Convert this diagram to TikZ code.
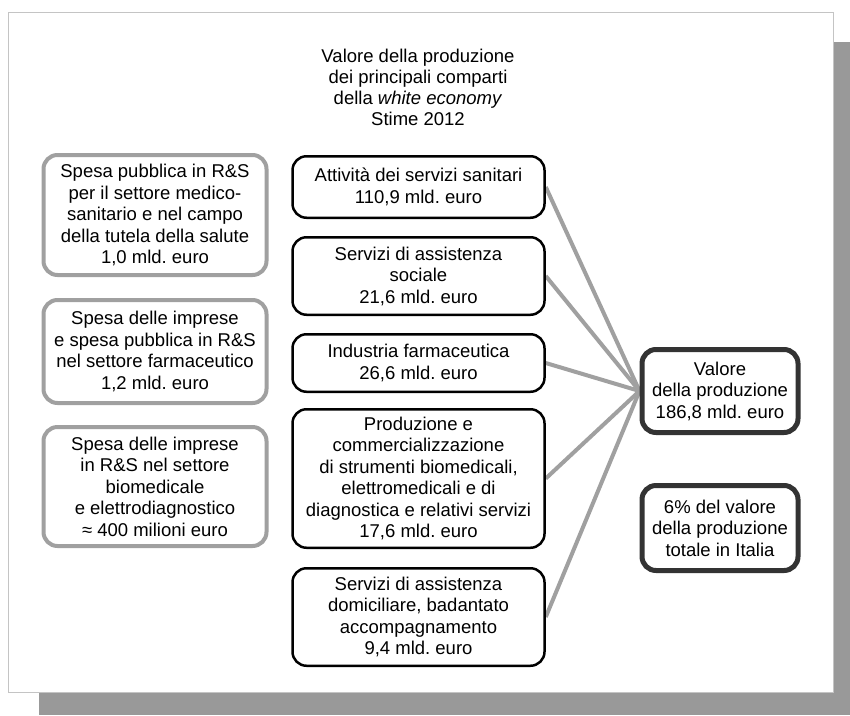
\documentclass[tikz,border=0pt]{standalone}
\usepackage{fontspec}
\setmainfont{Liberation Sans}
\usetikzlibrary{backgrounds}
\usepackage{xcolor}
\frenchspacing
\definecolor{shadowgray}{HTML}{999999}
\definecolor{linegray}{HTML}{A0A0A0}
\definecolor{framegray}{HTML}{C4C4C4}
\definecolor{darkborder}{HTML}{333333}

\tikzset{
  box/.style={rounded corners=14pt, align=center, inner sep=0pt, fill=white,
    font=\fontsize{18.5}{21.5}\selectfont},
  spesa/.style={box, draw=linegray, line width=4pt, minimum width=223pt},
  comparto/.style={box, draw=black, line width=2.5pt, minimum width=252pt},
  totale/.style={box, draw=darkborder, line width=5pt, minimum width=156pt},
  link/.style={draw=linegray, line width=4pt}
}

\begin{document}
\begin{tikzpicture}[x=1pt, y=-1pt]
  \useasboundingbox (0,0) rectangle (850,715);

  % title
  \node[align=center, font=\fontsize{18.5}{21}\selectfont] (T) at (418,87)
    {Valore della produzione\\dei principali comparti\\della \textit{white economy}\\Stime 2012};

  % left column: spesa in R&S
  \node[spesa, minimum height=120pt] (L1) at (155,215)
    {Spesa pubblica in R\&S\\per il settore medico-\\sanitario e nel campo\\della tutela della salute\\1,0 mld. euro};
  \node[spesa, minimum height=103pt] (L2) at (155,351.5)
    {Spesa delle imprese\\e spesa pubblica in R\&S\\nel settore farmaceutico\\1,2 mld. euro};
  \node[spesa, minimum height=119pt] (L3) at (155,486.5)
    {Spesa delle imprese\\in R\&S nel settore\\biomedicale\\e elettrodiagnostico\\≈ 400 milioni euro};

  % middle column: comparti
  \node[comparto, minimum height=61.5pt] (M1) at (418.5,187)
    {Attività dei servizi sanitari\\110,9 mld. euro};
  \node[comparto, minimum height=77.5pt] (M2) at (418.5,276)
    {Servizi di assistenza\\sociale\\21,6 mld. euro};
  \node[comparto, minimum height=57.5pt] (M3) at (418.5,363)
    {Industria farmaceutica\\26,6 mld. euro};
  \node[comparto, minimum height=138.5pt] (M4) at (418.5,478.5)
    {Produzione e\\commercializzazione\\di strumenti biomedicali,\\elettromedicali e di\\diagnostica e relativi servizi\\17,6 mld. euro};
  \node[comparto, minimum height=97.5pt] (M5) at (418.5,617)
    {Servizi di assistenza\\domiciliare, badantato\\accompagnamento\\9,4 mld. euro};

  % right column: totals
  \node[totale, minimum height=83pt] (V) at (720,391)
    {Valore\\della produzione\\186,8 mld. euro};
  \node[totale, minimum height=85pt] (Q) at (720,528)
    {6\% del valore\\della produzione\\totale in Italia};

  % frame, shadow and connectors
  \begin{scope}[on background layer]
    \fill[shadowgray] (39,42) rectangle (850,715);
    \draw[framegray, fill=white, line width=1pt] (8,12) rectangle (833,692);
    \foreach \m in {M1,M2,M3,M4,M5}
      \draw[link] (\m.east) -- (V.west);
  \end{scope}
\end{tikzpicture}
\end{document}
